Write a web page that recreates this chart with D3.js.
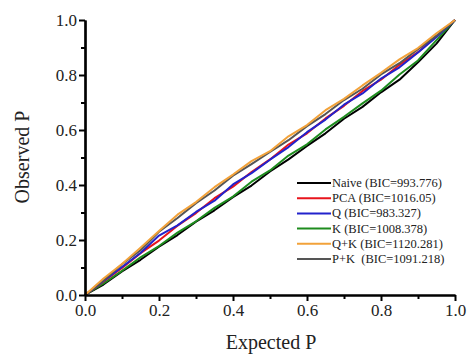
<!DOCTYPE html>
<html><head><meta charset="utf-8">
<script src="https://cdn.jsdelivr.net/npm/d3@7"></script>
<style>body{margin:0;background:#fff}svg{display:block}svg text{font-family:'Liberation Serif','Times New Roman',serif}</style>
</head><body>
<script>
const expected = [0,0.05,0.1,0.15,0.2,0.25,0.3,0.35,0.4,0.45,0.5,0.55,0.6,0.65,0.7,0.75,0.8,0.85,0.9,0.95,1.0];
const naive = [0,0.038,0.086,0.128,0.176,0.218,0.267,0.308,0.356,0.398,0.449,0.493,0.542,0.588,0.641,0.684,0.737,0.783,0.846,0.914,1.0];
const pca   = [0,0.049,0.098,0.152,0.198,0.252,0.298,0.352,0.394,0.447,0.493,0.547,0.588,0.642,0.688,0.742,0.783,0.837,0.883,0.942,1.0];
const q     = [0,0.051,0.102,0.153,0.216,0.253,0.302,0.343,0.402,0.443,0.492,0.538,0.592,0.638,0.692,0.733,0.787,0.828,0.882,0.938,1.0];
const k     = [0,0.042,0.088,0.137,0.178,0.227,0.268,0.317,0.358,0.412,0.453,0.507,0.548,0.602,0.648,0.697,0.743,0.802,0.853,0.927,1.0];
const qk    = [0,0.06,0.113,0.172,0.233,0.292,0.338,0.392,0.438,0.487,0.523,0.577,0.618,0.672,0.713,0.762,0.808,0.857,0.898,0.952,1.0];
const pk    = [0,0.053,0.112,0.163,0.23,0.28,0.334,0.38,0.434,0.476,0.52,0.563,0.614,0.658,0.709,0.75,0.802,0.843,0.894,0.943,1.0];
const seriesNames = ["Naive (BIC=993.776)","PCA (BIC=1016.05)","Q (BIC=983.327)","K (BIC=1008.378)","Q+K (BIC=1120.281)","P+K  (BIC=1091.218)"];
const seriesColors = ["#000000","#e8141c","#2222cc","#1e8c1e","#f2a23a","#555555"];
const seriesValues = [naive, pca, q, k, qk, pk];
const majorTicks = [0,0.2,0.4,0.6,0.8,1.0];
const minorTicks = [0.1,0.3,0.5,0.7,0.9];

const W=469,H=355;
const svg=d3.select("body").append("svg").attr("width",W).attr("height",H);
const x=d3.scaleLinear().domain([0,1]).range([85,455]);
const y=d3.scaleLinear().domain([0,1]).range([295,20]);
const font="'Liberation Serif','Times New Roman',serif";

const line=d3.line().x((d,i)=>x(expected[i])).y(d=>y(d));
const order=[0,3,1,2,5,4];
order.forEach(i=>{
  svg.append("path").datum(seriesValues[i]).attr("d",line)
    .attr("fill","none").attr("stroke",seriesColors[i]).attr("stroke-width",2)
    .attr("stroke-linejoin","round");
});

const xAxis=svg.append("g").attr("transform",`translate(0,${y(0)})`)
  .call(d3.axisBottom(x).tickValues(majorTicks).tickFormat(d3.format(".1f")).tickSize(6).tickSizeOuter(0));
const xMinor=svg.append("g").attr("transform",`translate(0,${y(0)})`)
  .call(d3.axisBottom(x).tickValues(minorTicks).tickFormat("").tickSize(4).tickSizeOuter(0));
const yAxis=svg.append("g").attr("transform",`translate(${x(0)},0)`)
  .call(d3.axisLeft(y).tickValues(majorTicks).tickFormat(d3.format(".1f")).tickSize(6).tickSizeOuter(0));
const yMinor=svg.append("g").attr("transform",`translate(${x(0)},0)`)
  .call(d3.axisLeft(y).tickValues(minorTicks).tickFormat("").tickSize(4).tickSizeOuter(0));
[xAxis,xMinor,yAxis,yMinor].forEach(g=>{
  g.attr("font-family",font).style("font-family",font);
  g.selectAll("path").attr("stroke","#000").attr("stroke-width",2.2);
  g.selectAll("line").attr("stroke","#000").attr("stroke-width",2);
  g.selectAll("text").style("font-family",font).attr("font-size",17).attr("fill","#222");
});
xAxis.selectAll("text").attr("dy","0.95em").attr("y",5);
yAxis.selectAll("text").attr("x",-8);

svg.append("text").attr("x",271).attr("y",349).attr("text-anchor","middle")
  .style("font-family",font).attr("font-size",20).attr("fill","#222").text("Expected P");
svg.append("text").attr("transform",`translate(29,157) rotate(-90)`).attr("text-anchor","middle")
  .style("font-family",font).attr("font-size",20).attr("fill","#222").text("Observed P");

seriesNames.forEach((name,i)=>{
  const ly=183+i*15.2;
  svg.append("line").attr("x1",297).attr("x2",331).attr("y1",ly).attr("y2",ly)
    .attr("stroke",seriesColors[i]).attr("stroke-width",2);
  svg.append("text").attr("x",332).attr("y",ly+4).style("font-family",font)
    .attr("font-size",12.5).attr("fill","#222").attr("xml:space","preserve").style("white-space","pre").text(name);
});
</script>
</body></html>
